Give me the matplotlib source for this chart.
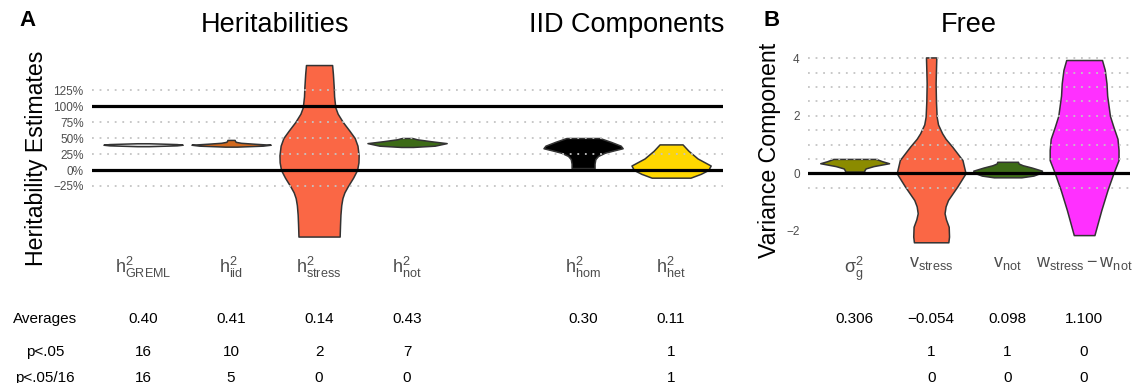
import matplotlib
matplotlib.use("Agg")
import matplotlib.pyplot as plt
import matplotlib.transforms as mtransforms

plt.rcParams["font.family"] = ["Liberation Sans", "DejaVu Sans"]
plt.rcParams["mathtext.fontset"] = "custom"
plt.rcParams["mathtext.rm"] = "Liberation Sans"
plt.rcParams["mathtext.it"] = "Liberation Sans"

# ---- panel A data -------------------------------------------------------
herit_pos = [1, 2, 3, 4, 6, 7]
herit_labels = [r"$\mathregular{h^2_{GREML}}$", r"$\mathregular{h^2_{iid}}$",
                r"$\mathregular{h^2_{stress}}$", r"$\mathregular{h^2_{not}}$",
                r"$\mathregular{h^2_{hom}}$", r"$\mathregular{h^2_{het}}$"]
herit_colors = ["#e6e6e6", "#d2691e", "#fa6745", "#3d6b17", "#000000", "#ffd700"]

# violin outlines: levels (heritability) and relative half width
greml_lv = [0.372, 0.385, 0.395, 0.405, 0.418]
greml_w = [0.15, 0.85, 1.0, 0.85, 0.15]
iid_lv = [0.365, 0.38, 0.395, 0.41, 0.425, 0.44, 0.455, 0.47]
iid_w = [0.15, 0.8, 1.0, 0.6, 0.25, 0.12, 0.1, 0.09]
stress_lv = [-1.04, -0.85, -0.70, -0.55, -0.44, -0.35, -0.26, -0.12, 0.0, 0.12, 0.23,
             0.38, 0.50, 0.62, 0.75, 0.88, 0.98, 1.15, 1.30, 1.50, 1.64]
stress_w = [0.52, 0.53, 0.54, 0.56, 0.59, 0.64, 0.72, 0.86, 0.96, 0.995, 1.0,
            0.97, 0.90, 0.76, 0.60, 0.47, 0.41, 0.38, 0.37, 0.35, 0.33]
not_lv = [0.36, 0.38, 0.42, 0.45, 0.48, 0.50]
not_w = [0.15, 0.7, 1.0, 0.6, 0.25, 0.13]
hom_lv = [0.03, 0.10, 0.17, 0.22, 0.27, 0.31, 0.34, 0.38, 0.44, 0.50]
hom_w = [0.29, 0.29, 0.31, 0.38, 0.55, 0.80, 1.0, 0.95, 0.70, 0.42]
het_lv = [-0.12, -0.06, 0.0, 0.07, 0.18, 0.30, 0.40]
het_w = [0.49, 0.75, 0.94, 1.0, 0.67, 0.44, 0.29]
herit_shapes = [(greml_lv, greml_w), (iid_lv, iid_w), (stress_lv, stress_w),
                (not_lv, not_w), (hom_lv, hom_w), (het_lv, het_w)]

herit_avg = ["0.40", "0.41", "0.14", "0.43", "0.30", "0.11"]
herit_p05 = ["16", "10", "2", "7", "", "1"]
herit_p05_16 = ["16", "5", "0", "0", "", "1"]

# ---- panel B data -------------------------------------------------------
free_pos = [1, 2, 3, 4]
free_labels = [r"$\sigma^2_g$", r"$\mathregular{v_{stress}}$", r"$\mathregular{v_{not}}$",
               r"$\mathregular{w_{stress} - w_{not}}$"]
free_colors = ["#8b8b00", "#fa6745", "#3d6b17", "#ff30ff"]
sig_lv = [0.06, 0.10, 0.17, 0.25, 0.35, 0.42, 0.50]
sig_w = [0.28, 0.28, 0.32, 0.55, 1.0, 0.80, 0.62]
vs_lv = [-2.40, -2.2, -1.86, -1.6, -1.39, -1.15, -0.93, -0.46, 0.0, 0.46, 0.93,
         1.2, 1.39, 1.7, 1.97, 2.5, 3.13, 3.6, 4.03]
vs_w = [0.50, 0.52, 0.51, 0.43, 0.39, 0.42, 0.49, 0.76, 1.0, 0.91, 0.61,
        0.42, 0.32, 0.20, 0.16, 0.14, 0.13, 0.14, 0.15]
vn_lv = [-0.14, -0.08, 0.0, 0.09, 0.2, 0.28, 0.34, 0.40]
vn_w = [0.40, 0.75, 0.93, 1.0, 0.70, 0.44, 0.32, 0.30]
w_lv = [-2.15, -1.28, -0.58, 0.0, 0.46, 0.81, 1.2, 1.62, 2.0, 2.7, 3.13, 3.6, 3.94]
w_w = [0.30, 0.50, 0.68, 0.85, 1.0, 1.0, 0.97, 0.85, 0.75, 0.67, 0.65, 0.60, 0.52]
free_shapes = [(sig_lv, sig_w), (vs_lv, vs_w), (vn_lv, vn_w), (w_lv, w_w)]

free_avg = ["0.306", "\u22120.054", "0.098", "1.100"]
free_p05 = ["", "1", "1", "0"]
free_p05_16 = ["", "0", "0", "0"]

row_labels = ["Averages", "p<.05", "p<.05/16"]

W, H = 1132, 383
GRID = "#c4c4c4"
TICK = "#4d4d4d"


def violin(ax, x, levels, widths, color):
    left = [x - 0.45 * w for w in widths]
    right = [x + 0.45 * w for w in widths]
    ax.fill_betweenx(levels, left, right, facecolor=color, edgecolor="#333333",
                     linewidth=1.1, zorder=2)


def style(ax):
    for s in ax.spines.values():
        s.set_visible(False)
    ax.tick_params(axis="both", length=0)
    ax.tick_params(axis="y", labelsize=8.5, labelcolor=TICK, pad=6)
    ax.tick_params(axis="x", labelsize=13, labelcolor=TICK, pad=7)


fig = plt.figure(figsize=(W / 100, H / 100), dpi=100)
axA = fig.add_axes([92 / W, 1 - 245 / H, (723 - 92) / W, (245 - 52) / H])
axB = fig.add_axes([808 / W, 1 - 245 / H, (1130 - 808) / W, (245 - 52) / H])

# panel A
for x, (lv, wd), c in zip(herit_pos, herit_shapes, herit_colors):
    violin(axA, x, lv, wd, c)
for y in [-0.25, 0.25, 0.5, 0.75, 1.25]:
    axA.axhline(y, color=GRID, lw=1.3, ls=(0, (1, 3.2)), zorder=3)
for y in [0, 1]:
    axA.axhline(y, color="black", lw=2.3, zorder=4)
axA.set_xlim(0.42, 7.59)
axA.set_ylim(-1.172, 1.844)
axA.set_yticks([-0.25, 0, 0.25, 0.5, 0.75, 1, 1.25])
axA.set_yticklabels(["\u221225%", "0%", "25%", "50%", "75%", "100%", "125%"])
axA.set_xticks(herit_pos)
axA.set_xticklabels(herit_labels)
style(axA)

# panel B
for x, (lv, wd), c in zip(free_pos, free_shapes, free_colors):
    violin(axB, x, lv, wd, c)
for y in [-0.5, 0.5, 1, 1.5, 2, 2.5, 3, 3.5, 4]:
    axB.axhline(y, color=GRID, lw=1.3, ls=(0, (1, 3.2)), zorder=3)
axB.axhline(0, color="black", lw=2.3, zorder=4)
axB.set_xlim(0.39, 4.6)
axB.set_ylim(-2.494, 4.219)
axB.set_yticks([-2, 0, 2, 4])
axB.set_yticklabels(["\u22122", "0", "2", "4"])
axB.set_xticks(free_pos)
axB.set_xticklabels(free_labels)
style(axB)

# titles and axis labels
tA = mtransforms.blended_transform_factory(axA.transData, fig.transFigure)
tB = mtransforms.blended_transform_factory(axB.transAxes, fig.transFigure)
axA.text(2.5, 1 - 25 / H, "Heritabilities", transform=tA, ha="center", va="center", fontsize=19.5)
axA.text(6.5, 1 - 25 / H, "IID Components", transform=tA, ha="center", va="center", fontsize=19.5)
axB.text(0.5, 1 - 25 / H, "Free", transform=tB, ha="center", va="center", fontsize=19.5)
fig.text(37 / W, 1 - 158 / H, "Heritability Estimates", rotation=90, ha="center", va="center", fontsize=16.7)
fig.text(770 / W, 1 - 150 / H, "Variance Component", rotation=90, ha="center", va="center", fontsize=16.7)
fig.text(28 / W, 1 - 21 / H, "A", ha="center", va="center", fontsize=16, fontweight="bold")
fig.text(772 / W, 1 - 21 / H, "B", ha="center", va="center", fontsize=16, fontweight="bold")

# table under the violins
row_y = [319, 352, 378]
tB_data = mtransforms.blended_transform_factory(axB.transData, fig.transFigure)
for ry, lab, a_vals, b_vals in zip(row_y, row_labels,
                                   [herit_avg, herit_p05, herit_p05_16],
                                   [free_avg, free_p05, free_p05_16]):
    fig.text(45 / W, 1 - ry / H, lab, ha="center", va="center", fontsize=11)
    for x, s in zip(herit_pos, a_vals):
        axA.text(x, 1 - ry / H, s, transform=tA, ha="center", va="center", fontsize=11)
    for x, s in zip(free_pos, b_vals):
        axB.text(x, 1 - ry / H, s, transform=tB_data, ha="center", va="center", fontsize=11)

fig.savefig("out.png", dpi=100)
